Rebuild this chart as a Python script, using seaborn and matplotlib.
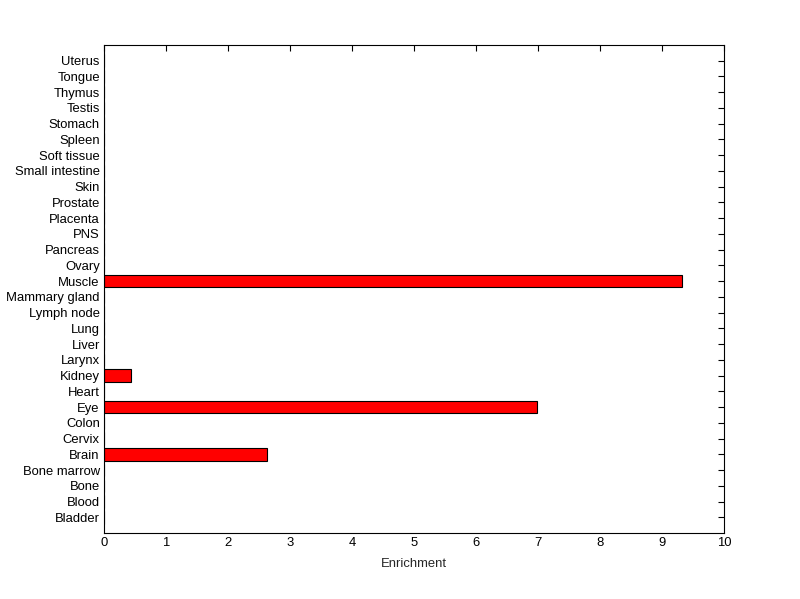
import matplotlib
matplotlib.use('Agg')
import matplotlib.pyplot as plt
import seaborn as sns
import pandas as pd

tissues = ['Bladder', 'Blood', 'Bone', 'Bone marrow', 'Brain', 'Cervix', 'Colon',
           'Eye', 'Heart', 'Kidney', 'Larynx', 'Liver', 'Lung', 'Lymph node',
           'Mammary gland', 'Muscle', 'Ovary', 'Pancreas', 'PNS', 'Placenta',
           'Prostate', 'Skin', 'Small intestine', 'Soft tissue', 'Spleen',
           'Stomach', 'Testis', 'Thymus', 'Tongue', 'Uterus']
enrichment = [0, 0, 0, 0, 2.63, 0, 0,
              6.98, 0, 0.44, 0, 0, 0, 0,
              0, 9.32, 0, 0, 0, 0,
              0, 0, 0, 0, 0,
              0, 0, 0, 0, 0]

df = pd.DataFrame({'Tissue': tissues, 'Enrichment': enrichment})

sns.set_style('white')
plt.rcParams['font.family'] = ['Liberation Sans', 'DejaVu Sans']

fig = plt.figure(figsize=(8, 5.99), dpi=100)
ax = fig.add_axes([0.13, 0.11, 0.775, 0.815])

# top of the chart is the last tissue
order = tissues[::-1]
sns.barplot(data=df, x='Enrichment', y='Tissue', order=order, orient='h',
            color='#ff0000', edgecolor='black', linewidth=0.8, width=0.8,
            saturation=1, ax=ax)

ax.set_xlim(0, 10)
ax.set_ylim(len(tissues), -1)
ax.set_xticks(range(0, 11))
ax.set_xlabel('Enrichment', fontsize=9.4, labelpad=6)
ax.set_ylabel('')
ax.tick_params(direction='in', top=True, right=True, length=4.3, width=0.8,
               labelsize=9.4, colors='black', pad=3)
for s in ax.spines.values():
    s.set_color('black')
    s.set_linewidth(0.8)

fig.savefig('out.png', dpi=100, facecolor='white')
